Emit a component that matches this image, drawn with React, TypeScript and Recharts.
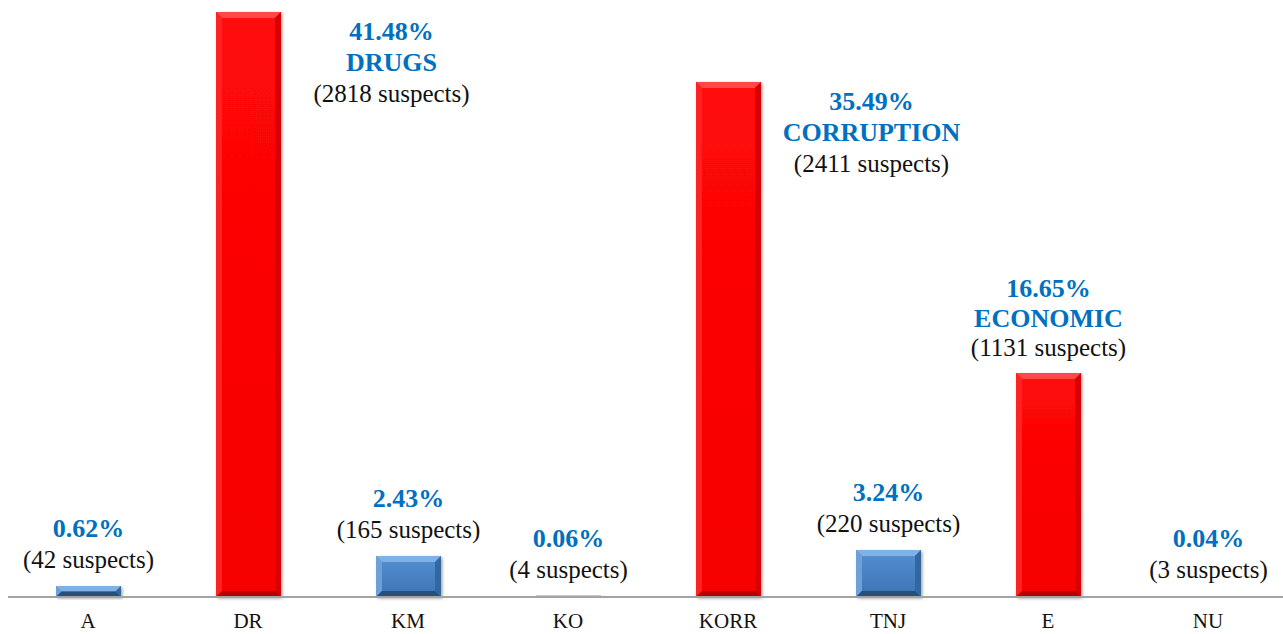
import React from "react";
import { BarChart, Bar, XAxis, YAxis } from "recharts";

// categories and values
const categories = ["A", "DR", "KM", "KO", "KORR", "TNJ", "E", "NU"];
// bar heights as drawn (same unit as the percentages, DR = 41.48)
const barHeights = [0.78, 41.48, 2.91, 0.1, 36.52, 3.33, 15.88, 0.04];
const percentLabels = ["0.62%", "41.48%", "2.43%", "0.06%", "35.49%", "3.24%", "16.65%", "0.04%"];
const groupLabels = ["", "DRUGS", "", "", "CORRUPTION", "", "ECONOMIC", ""];
const suspects = [42, 2818, 165, 4, 2411, 220, 1131, 3];
const highlighted = [false, true, false, false, true, false, true, false];
const labelBeside = [false, true, false, false, true, false, false, false];

const rows = categories.map((c, i) => ({
  category: c,
  value: barHeights[i],
  pct: percentLabels[i],
  group: groupLabels[i],
  suspects: suspects[i],
  red: highlighted[i],
  beside: labelBeside[i],
}));

const FONT = "'Liberation Serif', 'Times New Roman', serif";
const BLUE_TEXT = "#0070C0";

function BevelBar(props: any) {
  const { x, y, width: w, height: h, payload, index } = props;
  if (x == null || y == null) return null;
  const red = payload.red;
  const id = `bar-${index}`;
  const base = red ? "#ff0000" : "#4a84c6";
  const light = red ? "#ff4a4a" : "#7fb0e6";
  const sideL = red ? "#ff2020" : "#6d9fd8";
  const sideR = red ? "#d80000" : "#33689f";
  const dark = red ? "#b80000" : "#284f7c";
  const b = Math.max(0, Math.min(6, h / 2, w / 2));

  const cx = x + w / 2;
  const lines: { text: string; bold: boolean }[] = [{ text: payload.pct, bold: true }];
  if (payload.group) lines.push({ text: payload.group, bold: true });
  lines.push({ text: `(${payload.suspects} suspects)`, bold: false });

  let labelX = cx;
  let baselines: number[];
  if (payload.beside) {
    labelX = cx + 143;
    baselines = [y + 28, y + 59, y + 90];
  } else if (lines.length === 3) {
    baselines = [y - 76, y - 46, y - 17];
  } else {
    baselines = [y - 49, y - 18];
  }

  return (
    <g>
      <defs>
        <linearGradient id={`${id}-g`} x1="0" y1="0" x2="0" y2="1">
          <stop offset="0%" stopColor={red ? "#ff0808" : "#5590d2"} />
          <stop offset="100%" stopColor={red ? "#f60000" : "#3c74b4"} />
        </linearGradient>
        <filter id={`${id}-s`} x="-20%" y="-20%" width="140%" height="140%">
          <feDropShadow dx="1.5" dy="1.5" stdDeviation="1.5" floodColor="#000" floodOpacity="0.35" />
        </filter>
      </defs>
      {h > 0.5 && (
        <g filter={h > 4 ? `url(#${id}-s)` : undefined}>
          <rect x={x} y={y} width={w} height={Math.max(h, 1)} fill={h > 4 ? `url(#${id}-g)` : base} />
          {h > 4 && (
            <>
              <polygon points={`${x},${y} ${x + w},${y} ${x + w - b},${y + b} ${x + b},${y + b}`} fill={light} />
              <polygon points={`${x},${y} ${x + b},${y + b} ${x + b},${y + h - b} ${x},${y + h}`} fill={sideL} />
              <polygon points={`${x + w},${y} ${x + w},${y + h} ${x + w - b},${y + h - b} ${x + w - b},${y + b}`} fill={sideR} />
              <polygon points={`${x},${y + h} ${x + w},${y + h} ${x + w - b},${y + h - b} ${x + b},${y + h - b}`} fill={dark} />
            </>
          )}
        </g>
      )}
      {lines.map((l, i) => (
        <text
          key={i}
          x={labelX}
          y={baselines[i]}
          textAnchor="middle"
          fontFamily={FONT}
          fontSize={l.bold ? 26 : 25}
          fontWeight={l.bold ? "bold" : "normal"}
          fill={l.bold ? BLUE_TEXT : "#111"}
        >
          {l.text}
        </text>
      ))}
    </g>
  );
}

function CategoryTick(props: any) {
  const { x, payload } = props;
  // baseline sits a fixed distance under the axis line (axis at y = 597)
  return (
    <text x={x} y={628} textAnchor="middle" fontFamily={FONT} fontSize={21} fill="#111">
      {payload.value}
    </text>
  );
}

export default function App() {
  return (
    <div
      style={{
        position: "absolute",
        left: 0,
        top: 0,
        width: 1283,
        height: 634,
        overflow: "hidden",
        background: "#fff",
      }}
    >
      <BarChart width={1288} height={634} data={rows} margin={{ top: 12, right: 0, bottom: 0, left: 8 }}>
        <XAxis
          dataKey="category"
          interval={0}
          height={37}
          tickLine={false}
          axisLine={{ stroke: "#a3a3a3", strokeWidth: 2 }}
          tick={<CategoryTick />}
        />
        <YAxis hide domain={[0, 41.48]} />
        <Bar dataKey="value" barSize={65} shape={<BevelBar />} isAnimationActive={false} />
      </BarChart>
    </div>
  );
}
